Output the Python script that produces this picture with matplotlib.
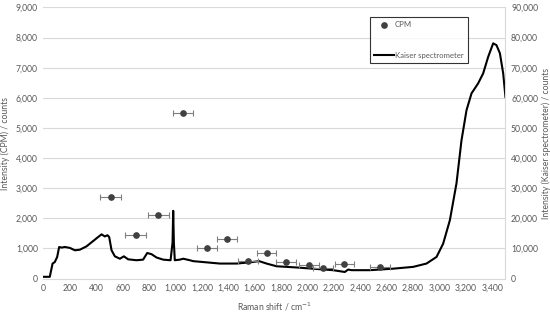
import numpy as np
import matplotlib.pyplot as plt
from matplotlib.lines import Line2D
from matplotlib.ticker import FuncFormatter

plt.rcParams['font.family'] = ['Lato', 'DejaVu Sans']

# CPM measurements (left axis)
cpm_shift = [510, 700, 870, 1060, 1240, 1390, 1550, 1690, 1840, 2010, 2120, 2280, 2550]
cpm_counts = [2700, 1450, 2100, 5500, 1000, 1300, 600, 850, 550, 450, 350, 500, 380]
cpm_err = [80, 80, 80, 75, 75, 75, 75, 75, 75, 75, 75, 75, 75]

# Kaiser spectrometer spectrum (right axis)
kaiser_shift = [0, 48, 69, 86, 104, 119, 137, 162, 200, 238, 276, 326, 377, 440, 465,
                485, 498, 516, 541, 579, 609, 642, 705, 755, 786, 819, 857, 907, 963,
                978, 983, 988, 995, 1033, 1059, 1109, 1134, 1210, 1336, 1463, 1564, 1634,
                1690, 1766, 1917, 2069, 2195, 2283, 2308, 2334, 2473, 2649, 2801, 2902,
                2978, 3028, 3079, 3129, 3167, 3205, 3243, 3293, 3331, 3369, 3407, 3432,
                3458, 3483, 3500]
kaiser_counts = [600, 600, 4980, 5500, 7200, 10500, 10300, 10500, 10200, 9400, 9600, 10700,
                 12500, 14700, 14000, 14400, 13800, 9400, 7400, 6600, 7400, 6400, 6100,
                 6300, 8500, 8100, 7000, 6300, 6100, 12000, 22500, 12000, 6100, 6300, 6600,
                 6100, 5800, 5500, 5000, 5000, 5400, 5800, 5000, 4100, 3700, 3200, 2800,
                 2200, 3000, 2800, 2800, 3300, 3900, 5000, 7200, 11600, 19400, 31600,
                 45900, 55900, 61500, 64800, 68100, 73600, 78100, 77500, 74800, 68100, 60300]

txt = '#595959'
grid = '#d9d9d9'
fs = 6.2

fig = plt.figure(figsize=(5.5, 3.12), dpi=100)
ax = fig.add_axes([0.079, 0.107, 0.84, 0.869])
ax2 = ax.twinx()

ax.set_zorder(ax2.get_zorder() + 1)
ax.patch.set_visible(False)

ax2.plot(kaiser_shift, kaiser_counts, color='black', lw=1.5, solid_joinstyle='round')
ax.errorbar(cpm_shift, cpm_counts, xerr=cpm_err, fmt='o', color='#404040',
            ms=3.8, ecolor='#7f7f7f', elinewidth=0.8, capsize=2, capthick=0.8)

ax.set_xlim(0, 3500)
ax.set_ylim(0, 9000)
ax2.set_ylim(0, 90000)
ax.set_xticks(np.arange(0, 3401, 200))
ax.set_yticks(np.arange(0, 9001, 1000))
ax2.set_yticks(np.arange(0, 90001, 10000))

fmt = FuncFormatter(lambda v, p: f'{int(v):,}')
ax.xaxis.set_major_formatter(fmt)
ax.yaxis.set_major_formatter(fmt)
ax2.yaxis.set_major_formatter(fmt)

for a in (ax, ax2):
    for s in a.spines.values():
        s.set_visible(False)
    a.tick_params(length=0, labelsize=fs, labelcolor=txt, pad=4)
ax2.spines['bottom'].set_visible(True)
ax2.spines['bottom'].set_color(grid)
ax2.spines['right'].set_visible(True)
ax2.spines['right'].set_color(grid)

ax2.grid(True, color=grid, lw=0.8)
ax2.set_xticks(np.arange(0, 3401, 200))

ax.set_xlabel('Raman shift / cm$^{-1}$', fontsize=fs, color=txt, labelpad=5)
ax.set_ylabel('Intensity (CPM) / counts', fontsize=fs, color=txt)
ax.yaxis.set_label_coords(-0.073, 0.5)
ax2.set_ylabel('Intensity (Kaiser spectrometer) / counts', fontsize=fs, color=txt,
               rotation=90)
ax2.yaxis.set_label_coords(1.077, 0.5)

handles = [Line2D([], [], ls='none', marker='o', ms=3.8, color='#404040'),
           Line2D([], [], color='black', lw=1.5)]
leg = ax.legend(handles, ['CPM', 'Kaiser spectrometer'], loc='upper left',
                bbox_to_anchor=(0.7065, 0.965), fontsize=5.6, frameon=True,
                fancybox=False, edgecolor='black', labelcolor=txt,
                handlelength=2.6, handletextpad=0.05, labelspacing=3.0,
                borderpad=0.55, borderaxespad=0)
leg.get_frame().set_linewidth(0.8)

fig.savefig('out.png', dpi=100)
